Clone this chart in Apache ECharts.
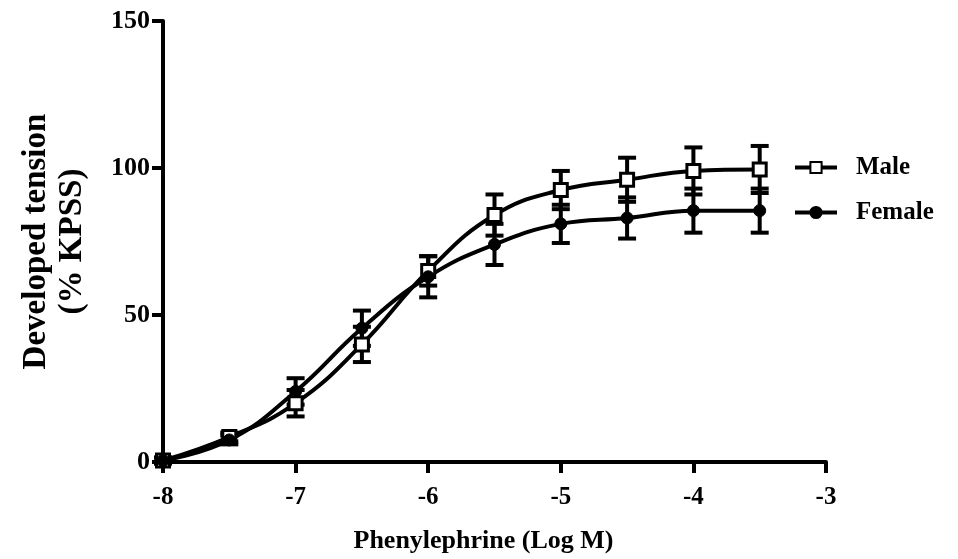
<!DOCTYPE html>
<html>
<head>
<meta charset="utf-8">
<script src="https://cdn.jsdelivr.net/npm/echarts@6/dist/echarts.min.js"></script>
<style>html,body{margin:0;padding:0;background:#fff}#chart{width:958px;height:559px}</style>
</head>
<body>
<div id="chart"></div>
<script>
const logDose = [-8, -7.5, -7, -6.5, -6, -5.5, -5, -4.5, -4, -3.5];
const maleMean = [0.5, 8.5, 20, 40, 65, 84, 92.5, 96, 99, 99.5];
const maleSE = [1, 1.5, 4.5, 6, 5, 7, 6.5, 7.5, 8, 8];
const femaleMean = [0.5, 7.5, 24, 45.5, 63, 74, 81, 83, 85.5, 85.5];
const femaleSE = [1, 1.5, 4.5, 6, 7, 7, 6.5, 7, 7.5, 7.5];
const xTicks = [-8, -7, -6, -5, -4, -3];
const yTicks = [0, 50, 100, 150];

const font = 'Liberation Serif';
const pts = (m) => logDose.map((x, i) => [x, m[i]]);
const errs = (m, s) => logDose.map((x, i) => [x, m[i] - s[i], m[i] + s[i]]);

function errRender(params, api) {
  const x = api.value(0);
  const lo = api.coord([x, api.value(1)]);
  const hi = api.coord([x, api.value(2)]);
  const w = 9;
  const st = { stroke: '#000', lineWidth: 4 };
  return {
    type: 'group',
    children: [
      { type: 'line', shape: { x1: lo[0], y1: lo[1], x2: hi[0], y2: hi[1] }, style: st },
      { type: 'line', shape: { x1: lo[0] - w, y1: lo[1], x2: lo[0] + w, y2: lo[1] }, style: st },
      { type: 'line', shape: { x1: hi[0] - w, y1: hi[1], x2: hi[0] + w, y2: hi[1] }, style: st }
    ]
  };
}

const chart = echarts.init(document.getElementById('chart'));
chart.setOption({
  animation: false,
  backgroundColor: '#fff',
  grid: { left: 163, right: 132, top: 21, bottom: 94 },
  legend: {
    data: ['Male', 'Female'],
    orient: 'vertical',
    left: 788, top: 150,
    itemWidth: 42, itemHeight: 14, itemGap: 20,
    lineStyle: { width: 4, color: '#000' },
    textStyle: { fontFamily: font, fontWeight: 'bold', fontSize: 25, color: '#000', padding: [0, 0, 0, 14] }
  },
  xAxis: {
    type: 'value', min: -8, max: -3, interval: 1,
    name: 'Phenylephrine (Log M)', nameLocation: 'middle', nameGap: 66,
    nameTextStyle: { fontFamily: font, fontWeight: 'bold', fontSize: 26, color: '#000', padding: [0, 22, 0, 0] },
    axisLine: { onZero: false, lineStyle: { color: '#000', width: 4 } },
    axisTick: { length: 11, lineStyle: { color: '#000', width: 4 } },
    axisLabel: { fontFamily: font, fontWeight: 'bold', fontSize: 25, color: '#000', margin: 23 },
    splitLine: { show: false }
  },
  yAxis: {
    type: 'value', min: 0, max: 150, interval: 50,
    name: 'Developed tension\n(% KPSS)', nameLocation: 'middle', nameGap: 73, nameRotate: 90,
    nameTextStyle: { fontFamily: font, fontWeight: 'bold', fontSize: 33, color: '#000', lineHeight: 36 },
    axisLine: { lineStyle: { color: '#000', width: 4 } },
    axisTick: { length: 11, lineStyle: { color: '#000', width: 4 } },
    axisLabel: { fontFamily: font, fontWeight: 'bold', fontSize: 26, color: '#000', margin: 13 },
    splitLine: { show: false }
  },
  series: [
    { type: 'custom', name: 'maleErr', renderItem: errRender, data: errs(maleMean, maleSE), z: 3, silent: true },
    { type: 'custom', name: 'femaleErr', renderItem: errRender, data: errs(femaleMean, femaleSE), z: 3, silent: true },
    {
      type: 'line', name: 'Male', data: pts(maleMean), smooth: 0.45,
      symbol: 'rect', symbolSize: 13,
      lineStyle: { color: '#000', width: 4 },
      itemStyle: { color: '#fff', borderColor: '#000', borderWidth: 3 },
      z: 4
    },
    {
      type: 'line', name: 'Female', data: pts(femaleMean), smooth: 0.45,
      symbol: 'circle', symbolSize: 12,
      lineStyle: { color: '#000', width: 4 },
      itemStyle: { color: '#000', borderColor: '#000', borderWidth: 1 },
      z: 4
    }
  ]
});
</script>
</body>
</html>
